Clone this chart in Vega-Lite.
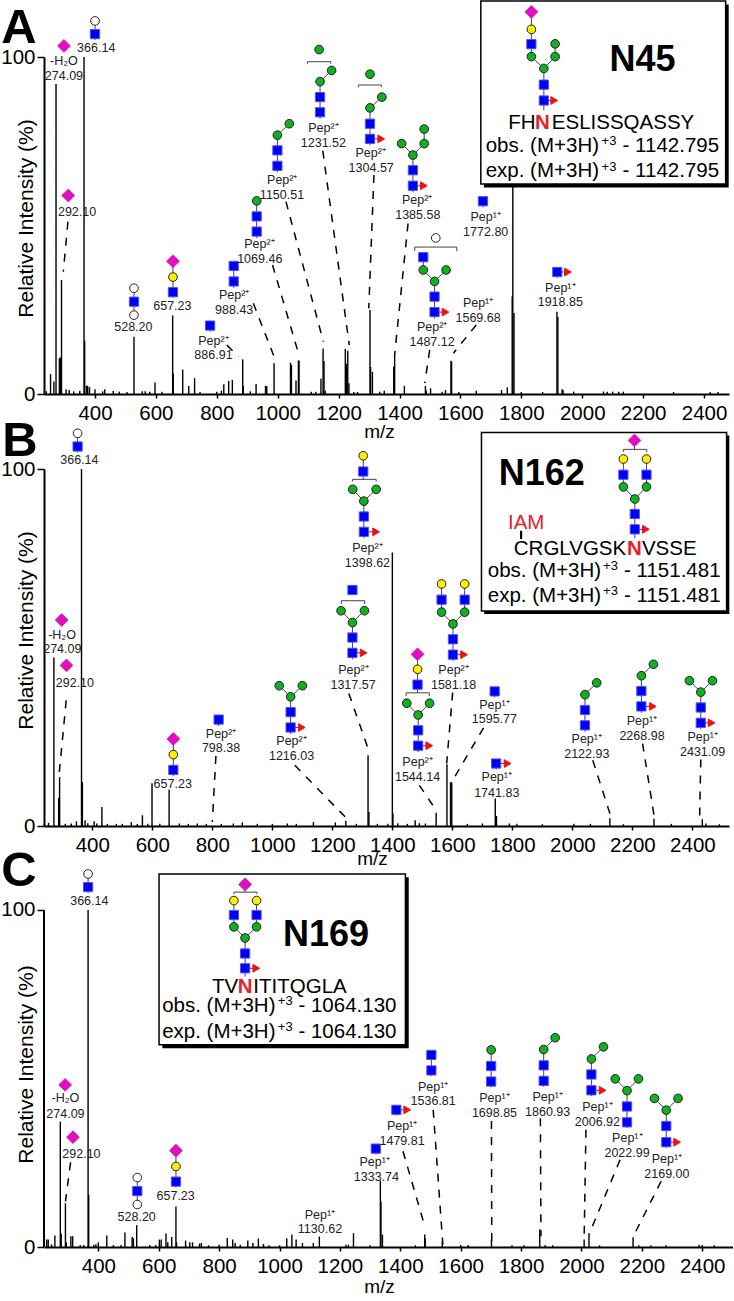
{"$schema":"https://vega.github.io/schema/vega-lite/v6.json","padding":{"left":0,"top":0,"right":0,"bottom":0},"background":"white","bounds":"flush","spacing":75,"config":{"legend":{"disable":true},"view":{"stroke":null},"font":"Liberation Sans","axis":{"grid":false,"domainColor":"black","tickColor":"black","labelColor":"black","titleColor":"black","labelFont":"Liberation Sans","titleFont":"Liberation Sans","titleFontWeight":"normal","labelFontSize":20.5,"titleFontSize":21,"domainWidth":2,"tickWidth":1.5}},
"datasets":{
"peaksA":[{"x":240,"y":0.8},{"x":254,"y":5.9},{"x":265,"y":3.7},{"x":272,"y":92},{"x":283,"y":10.6},{"x":286,"y":10.8},{"x":290,"y":33.8},{"x":305,"y":1.4},{"x":315,"y":1.2},{"x":330,"y":0.8},{"x":350,"y":1},{"x":364,"y":100},{"x":366,"y":15.8},{"x":372,"y":2.5},{"x":376,"y":2.4},{"x":382,"y":2},{"x":400,"y":1.4},{"x":432,"y":1.4},{"x":425,"y":0.8},{"x":460,"y":0.9},{"x":480,"y":0.7},{"x":505,"y":0.6},{"x":528,"y":17},{"x":555,"y":0.8},{"x":565,"y":0.8},{"x":580,"y":0.7},{"x":597,"y":3.4},{"x":620,"y":0.7},{"x":655,"y":23.3},{"x":657,"y":6.1},{"x":688,"y":7.3},{"x":708,"y":2.4},{"x":727,"y":4.7},{"x":745,"y":0.6},{"x":800,"y":0.7},{"x":815,"y":1},{"x":823,"y":2.9},{"x":839,"y":3.9},{"x":851,"y":4.2},{"x":885,"y":10.3},{"x":887,"y":2.4},{"x":910,"y":0.8},{"x":929,"y":3},{"x":960,"y":2.4},{"x":964,"y":2.4},{"x":988,"y":9.1},{"x":1042,"y":9.3},{"x":1045,"y":8.6},{"x":1060,"y":4},{"x":1068,"y":10},{"x":1070,"y":9.8},{"x":1110,"y":0.7},{"x":1125,"y":0.7},{"x":1142,"y":4.5},{"x":1149,"y":13.5},{"x":1152,"y":9.8},{"x":1156,"y":1},{"x":1222,"y":13.4},{"x":1226,"y":9},{"x":1230,"y":12.8},{"x":1234,"y":3.2},{"x":1250,"y":0.6},{"x":1262,"y":0.6},{"x":1303,"y":24.9},{"x":1305,"y":8},{"x":1311,"y":6.6},{"x":1335,"y":0.7},{"x":1350,"y":1},{"x":1381,"y":8.1},{"x":1384,"y":11.8},{"x":1416,"y":2.4},{"x":1485,"y":2.4},{"x":1488,"y":1},{"x":1502,"y":1.7},{"x":1540,"y":0.7},{"x":1551,"y":1.2},{"x":1569,"y":9.9},{"x":1571,"y":9.6},{"x":1595,"y":0.6},{"x":1652,"y":1},{"x":1735,"y":1.2},{"x":1754,"y":2},{"x":1770,"y":28.9},{"x":1772,"y":100},{"x":1776,"y":24},{"x":1800,"y":0.6},{"x":1870,"y":0.6},{"x":1917,"y":24.4},{"x":1920,"y":22.9},{"x":1934,"y":1.4},{"x":1937,"y":1.2},{"x":1972,"y":0.7},{"x":2070,"y":0.7},{"x":2082,"y":0.7},{"x":2100,"y":0.7},{"x":2120,"y":0.7},{"x":2135,"y":0.7},{"x":2300,"y":0.6},{"x":2420,"y":0.6},{"x":2446,"y":0.6}],
"dashA":[{"x":311,"y":51.1,"x2":296,"y2":36.3},{"x":833,"y":14.5,"x2":871,"y2":11.1},{"x":920,"y":26.9,"x2":988,"y2":11.1},{"x":983,"y":38.3,"x2":1068,"y2":12.1},{"x":1027,"y":57.1,"x2":1150,"y2":15.5},{"x":1148,"y":72.2,"x2":1235,"y2":14.5},{"x":1316,"y":65,"x2":1299,"y2":25.4},{"x":1428,"y":50.6,"x2":1384,"y2":11.6},{"x":1499,"y":13.1,"x2":1483,"y2":3.2},{"x":1652,"y":20.5,"x2":1577,"y2":12.1}],
"linksA":[{"x":400,"y":110.7,"x2":400,"y2":105},{"x":528,"y":31.4,"x2":528,"y2":23.4},{"x":656,"y":39.4,"x2":656,"y2":28.5},{"x":778,"y":20.3,"x2":778,"y2":18.5},{"x":855.5,"y":38,"x2":855.5,"y2":31.5},{"x":931,"y":57.3,"x2":931,"y2":46.3},{"x":1038,"y":80.2,"x2":999,"y2":76.8},{"x":999,"y":76.8,"x2":999,"y2":65.8},{"x":1177,"y":96,"x2":1139,"y2":92.7},{"x":1139,"y":92.7,"x2":1139,"y2":81.7},{"x":1342,"y":88.1,"x2":1303,"y2":84.9},{"x":1303,"y":84.9,"x2":1303,"y2":73.8},{"x":1303,"y":75.7,"x2":1340,"y2":75.7},{"x":1481,"y":78.6,"x2":1481,"y2":74.3},{"x":1407,"y":74.3,"x2":1444,"y2":70.9},{"x":1481,"y":74.3,"x2":1444,"y2":70.9},{"x":1444,"y":70.9,"x2":1444,"y2":59.9},{"x":1444,"y":61.8,"x2":1480,"y2":61.8},{"x":1478,"y":40.6,"x2":1478,"y2":36.8},{"x":1478,"y":36.8,"x2":1515,"y2":33.4},{"x":1553,"y":36.8,"x2":1515,"y2":33.4},{"x":1515,"y":33.4,"x2":1515,"y2":22.4},{"x":1515,"y":24.3,"x2":1551,"y2":24.3},{"x":1674,"y":57.2,"x2":1674,"y2":55.4},{"x":1918,"y":36.2,"x2":1918,"y2":34.4},{"x":1918,"y":36.2,"x2":1953,"y2":36.2},{"x":1833,"y":113.4,"x2":1833,"y2":100.1},{"x":1833,"y":100.1,"x2":1874,"y2":96.6},{"x":1911,"y":100.1,"x2":1874,"y2":96.6},{"x":1911,"y":103.9,"x2":1911,"y2":100.1},{"x":1874,"y":96.6,"x2":1874,"y2":84.2},{"x":1874,"y":87.1,"x2":1908,"y2":87.1},{"x":1098,"y":98.6,"x2":1174,"y2":98.6},{"x":1098,"y":98.6,"x2":1098,"y2":98},{"x":1174,"y":98.6,"x2":1174,"y2":98},{"x":1265,"y":91.7,"x2":1340,"y2":91.7},{"x":1265,"y":91.7,"x2":1265,"y2":91},{"x":1340,"y":91.7,"x2":1340,"y2":91},{"x":1450,"y":43.6,"x2":1588,"y2":43.6},{"x":1450,"y":43.6,"x2":1450,"y2":42.4},{"x":1588,"y":43.6,"x2":1588,"y2":42.4}],
"glyphA":[{"x":400,"y":110.7,"t":"W"},{"x":400,"y":106.8,"t":"B"},{"x":298,"y":103.3,"t":"D"},{"x":312,"y":58.9,"t":"D"},{"x":528,"y":31.4,"t":"W"},{"x":528,"y":27.4,"t":"B"},{"x":528,"y":23.4,"t":"W"},{"x":656,"y":39.4,"t":"D"},{"x":656,"y":34.7,"t":"Y"},{"x":656,"y":30.2,"t":"B"},{"x":778,"y":20.3,"t":"B"},{"x":855.5,"y":38,"t":"B"},{"x":855.5,"y":33.4,"t":"B"},{"x":931,"y":57.3,"t":"G"},{"x":931,"y":52.7,"t":"B"},{"x":931,"y":48.2,"t":"B"},{"x":1038,"y":80.2,"t":"G"},{"x":999,"y":76.8,"t":"G"},{"x":999,"y":72.3,"t":"B"},{"x":999,"y":67.7,"t":"B"},{"x":1136,"y":102.2,"t":"G"},{"x":1177,"y":96,"t":"G"},{"x":1139,"y":92.7,"t":"G"},{"x":1139,"y":88.1,"t":"B"},{"x":1139,"y":83.6,"t":"B"},{"x":1303,"y":94.9,"t":"G"},{"x":1342,"y":88.1,"t":"G"},{"x":1303,"y":84.9,"t":"G"},{"x":1303,"y":80.2,"t":"B"},{"x":1303,"y":75.7,"t":"B"},{"x":1340,"y":75.7,"t":"R"},{"x":1481,"y":78.6,"t":"G"},{"x":1407,"y":74.3,"t":"G"},{"x":1481,"y":74.3,"t":"G"},{"x":1444,"y":70.9,"t":"G"},{"x":1444,"y":66.4,"t":"B"},{"x":1444,"y":61.8,"t":"B"},{"x":1480,"y":61.8,"t":"R"},{"x":1519,"y":46.3,"t":"W"},{"x":1478,"y":40.6,"t":"B"},{"x":1478,"y":36.8,"t":"G"},{"x":1553,"y":36.8,"t":"G"},{"x":1515,"y":33.4,"t":"G"},{"x":1515,"y":28.9,"t":"B"},{"x":1515,"y":24.3,"t":"B"},{"x":1551,"y":24.3,"t":"R"},{"x":1674,"y":57.2,"t":"B"},{"x":1918,"y":36.2,"t":"B"},{"x":1953,"y":36.2,"t":"R"},{"x":1833,"y":113.4,"t":"D"},{"x":1833,"y":108.2,"t":"Y"},{"x":1833,"y":103.8,"t":"B"},{"x":1833,"y":100.1,"t":"G"},{"x":1911,"y":103.9,"t":"G"},{"x":1911,"y":100.1,"t":"G"},{"x":1874,"y":96.6,"t":"G"},{"x":1874,"y":91.8,"t":"B"},{"x":1874,"y":87.1,"t":"B"},{"x":1908,"y":87.1,"t":"R"}],
"textA":[{"x":404,"y":102.7,"t":"366.14","r":"ion"},{"x":298,"y":98.9,"t":"-H₂O","r":"ion"},{"x":298,"y":94.5,"t":"274.09","r":"ion"},{"x":341,"y":53.9,"t":"292.10","r":"ion"},{"x":526,"y":19.9,"t":"528.20","r":"ion"},{"x":654,"y":26.1,"t":"657.23","r":"ion"},{"x":789,"y":15.8,"t":"Pep²⁺","r":"ion"},{"x":789,"y":11.5,"t":"886.91","r":"ion"},{"x":857,"y":29.4,"t":"Pep²⁺","r":"ion"},{"x":857,"y":24.9,"t":"988.43","r":"ion"},{"x":940,"y":44.4,"t":"Pep²⁺","r":"ion"},{"x":941,"y":40,"t":"1069.46","r":"ion"},{"x":1015,"y":63.5,"t":"Pep²⁺","r":"ion"},{"x":1014,"y":59.1,"t":"1150.51","r":"ion"},{"x":1150,"y":78.8,"t":"Pep²⁺","r":"ion"},{"x":1150,"y":74.4,"t":"1231.52","r":"ion"},{"x":1305,"y":71.4,"t":"Pep²⁺","r":"ion"},{"x":1307,"y":67.2,"t":"1304.57","r":"ion"},{"x":1458,"y":57.6,"t":"Pep²⁺","r":"ion"},{"x":1460,"y":53.1,"t":"1385.58","r":"ion"},{"x":1507,"y":20,"t":"Pep²⁺","r":"ion"},{"x":1507,"y":15.5,"t":"1487.12","r":"ion"},{"x":1658,"y":27.1,"t":"Pep¹⁺","r":"ion"},{"x":1658,"y":22.7,"t":"1569.68","r":"ion"},{"x":1683,"y":52.6,"t":"Pep¹⁺","r":"ion"},{"x":1683,"y":48.2,"t":"1772.80","r":"ion"},{"x":1928,"y":31.6,"t":"Pep¹⁺","r":"ion"},{"x":1928,"y":27.3,"t":"1918.85","r":"ion"},{"x":1802,"y":80.5,"t":"FH","r":"seq"},{"x":2134,"y":80.5,"t":"ESLISSQASSY","r":"seq"},{"x":1869,"y":73.7,"t":"obs. (M+3H)","r":"seq"},{"x":2088,"y":75.2,"t":"+3","r":"sup"},{"x":2291,"y":73.7,"t":"- 1142.795","r":"seq"},{"x":1869,"y":66.1,"t":"exp. (M+3H)","r":"seq"},{"x":2088,"y":67.5,"t":"+3","r":"sup"},{"x":2291,"y":66.1,"t":"- 1142.795","r":"seq"}],
"boldA":[{"x":150,"y":108.6,"t":"A","r":"letter"},{"x":2198,"y":99.1,"t":"N45","r":"head"},{"x":1869,"y":80.5,"t":"N","r":"red"}],
"peaksB":[{"x":240,"y":0.6},{"x":254,"y":0.9},{"x":272,"y":47.2},{"x":288,"y":7.9},{"x":291,"y":13.7},{"x":310,"y":0.6},{"x":330,"y":0.7},{"x":347,"y":1.3},{"x":364,"y":100},{"x":367,"y":12.3},{"x":376,"y":1.6},{"x":385,"y":0.8},{"x":406,"y":1.3},{"x":415,"y":0.7},{"x":432,"y":5.3},{"x":450,"y":0.6},{"x":480,"y":0.6},{"x":500,"y":0.6},{"x":530,"y":1.1},{"x":550,"y":0.6},{"x":567,"y":3},{"x":585,"y":0.6},{"x":599,"y":12},{"x":625,"y":0.6},{"x":656,"y":10.2},{"x":690,"y":0.7},{"x":720,"y":0.6},{"x":750,"y":0.7},{"x":780,"y":0.6},{"x":830,"y":0.6},{"x":870,"y":0.7},{"x":900,"y":1},{"x":950,"y":0.6},{"x":1000,"y":0.6},{"x":1050,"y":0.7},{"x":1080,"y":0.6},{"x":1137,"y":1.1},{"x":1210,"y":1},{"x":1245,"y":1.5},{"x":1280,"y":0.6},{"x":1319,"y":19.8},{"x":1322,"y":3.9},{"x":1350,"y":0.6},{"x":1385,"y":0.6},{"x":1400,"y":76.6},{"x":1402,"y":3.5},{"x":1418,"y":0.8},{"x":1450,"y":0.6},{"x":1476,"y":1.6},{"x":1490,"y":0.8},{"x":1510,"y":0.7},{"x":1546,"y":3.7},{"x":1582,"y":17.3},{"x":1594,"y":12.3},{"x":1598,"y":12.2},{"x":1650,"y":0.6},{"x":1700,"y":0.7},{"x":1743,"y":7.7},{"x":1747,"y":2.8},{"x":1790,"y":0.7},{"x":1815,"y":0.6},{"x":1900,"y":0.5},{"x":2005,"y":0.6},{"x":2060,"y":0.6},{"x":2125,"y":2.2},{"x":2272,"y":2},{"x":2170,"y":0.5},{"x":2330,"y":0.6},{"x":2433,"y":1.9},{"x":2445,"y":0.7},{"x":2490,"y":0.5}],
"dashB":[{"x":313,"y":35.2,"x2":289,"y2":14.2},{"x":812,"y":19.6,"x2":800,"y2":1.1},{"x":1075,"y":17,"x2":1248,"y2":2.1},{"x":1255,"y":37.1,"x2":1317,"y2":22.2},{"x":1490,"y":11.4,"x2":1546,"y2":4.4},{"x":1601,"y":37.4,"x2":1581,"y2":17.5},{"x":1704,"y":27.5,"x2":1601,"y2":12.8},{"x":2068,"y":18.4,"x2":2127,"y2":3},{"x":2234,"y":23.1,"x2":2273,"y2":2.5},{"x":2428,"y":18.6,"x2":2424,"y2":2.1}],
"linksB":[{"x":351,"y":110,"x2":351,"y2":104.6},{"x":670,"y":24.4,"x2":670,"y2":14},{"x":821,"y":29.8,"x2":821,"y2":28},{"x":1023,"y":39.3,"x2":1061,"y2":36.2},{"x":1100,"y":39.3,"x2":1061,"y2":36.2},{"x":1061,"y":36.2,"x2":1061,"y2":25.8},{"x":1061,"y":27.6,"x2":1098,"y2":27.6},{"x":1229,"y":60.3,"x2":1267,"y2":57},{"x":1307,"y":60.3,"x2":1267,"y2":57},{"x":1267,"y":57,"x2":1267,"y2":46.7},{"x":1267,"y":48.5,"x2":1304,"y2":48.5},{"x":1230,"y":63.1,"x2":1308,"y2":63.1},{"x":1230,"y":63.1,"x2":1230,"y2":62.2},{"x":1308,"y":63.1,"x2":1308,"y2":62.2},{"x":1303,"y":103.7,"x2":1303,"y2":97.1},{"x":1268,"y":94.3,"x2":1305,"y2":91},{"x":1346,"y":94.3,"x2":1305,"y2":91},{"x":1305,"y":91,"x2":1305,"y2":80.6},{"x":1305,"y":82.4,"x2":1346,"y2":82.4},{"x":1267,"y":97.1,"x2":1346,"y2":97.1},{"x":1267,"y":97.1,"x2":1267,"y2":96.5},{"x":1346,"y":97.1,"x2":1346,"y2":96.5},{"x":1484,"y":48.1,"x2":1484,"y2":37.3},{"x":1448,"y":34.4,"x2":1486,"y2":31.1},{"x":1524,"y":34.4,"x2":1486,"y2":31.1},{"x":1486,"y":31.1,"x2":1486,"y2":20.7},{"x":1486,"y":22.5,"x2":1523,"y2":22.5},{"x":1446,"y":37.3,"x2":1523,"y2":37.3},{"x":1446,"y":37.3,"x2":1446,"y2":36.4},{"x":1523,"y":37.3,"x2":1523,"y2":36.4},{"x":1564,"y":67.8,"x2":1564,"y2":59.9},{"x":1641,"y":67.8,"x2":1641,"y2":59.9},{"x":1564,"y":59.9,"x2":1602,"y2":56.6},{"x":1641,"y":59.9,"x2":1602,"y2":56.6},{"x":1602,"y":56.6,"x2":1602,"y2":46.2},{"x":1602,"y":48,"x2":1639,"y2":48},{"x":1741,"y":37.7,"x2":1741,"y2":36},{"x":1746,"y":17.5,"x2":1746,"y2":15.8},{"x":1746,"y":17.5,"x2":1784,"y2":17.5},{"x":2081,"y":40.1,"x2":2042,"y2":36.8},{"x":2042,"y":36.8,"x2":2042,"y2":26.4},{"x":2270,"y":45.3,"x2":2230,"y2":42.1},{"x":2230,"y":42.1,"x2":2230,"y2":31.7},{"x":2230,"y":33.5,"x2":2268,"y2":33.5},{"x":2390,"y":40.7,"x2":2428,"y2":37.5},{"x":2467,"y":40.7,"x2":2428,"y2":37.5},{"x":2428,"y":37.5,"x2":2428,"y2":27.1},{"x":2428,"y":28.9,"x2":2464,"y2":28.9},{"x":2207,"y":108,"x2":2207,"y2":105.5},{"x":2170,"y":105.5,"x2":2248,"y2":105.5},{"x":2170,"y":105.5,"x2":2170,"y2":104.8},{"x":2248,"y":105.5,"x2":2248,"y2":104.8},{"x":2170,"y":102.8,"x2":2170,"y2":95},{"x":2247,"y":102.8,"x2":2247,"y2":95},{"x":2170,"y":95,"x2":2208,"y2":91.6},{"x":2247,"y":95,"x2":2208,"y2":91.6},{"x":2208,"y":91.6,"x2":2208,"y2":80.6},{"x":2208,"y":83.1,"x2":2245,"y2":83.1}],
"glyphB":[{"x":351,"y":110,"t":"W"},{"x":351,"y":106.3,"t":"B"},{"x":298,"y":57.7,"t":"D"},{"x":314,"y":45,"t":"D"},{"x":670,"y":24.4,"t":"D"},{"x":670,"y":20,"t":"Y"},{"x":670,"y":15.7,"t":"B"},{"x":821,"y":29.8,"t":"B"},{"x":1023,"y":39.3,"t":"G"},{"x":1100,"y":39.3,"t":"G"},{"x":1061,"y":36.2,"t":"G"},{"x":1061,"y":31.9,"t":"B"},{"x":1061,"y":27.6,"t":"B"},{"x":1098,"y":27.6,"t":"R"},{"x":1267,"y":66.1,"t":"B"},{"x":1229,"y":60.3,"t":"G"},{"x":1307,"y":60.3,"t":"G"},{"x":1267,"y":57,"t":"G"},{"x":1267,"y":52.8,"t":"B"},{"x":1267,"y":48.5,"t":"B"},{"x":1304,"y":48.5,"t":"R"},{"x":1303,"y":103.7,"t":"Y"},{"x":1303,"y":99.3,"t":"B"},{"x":1268,"y":94.3,"t":"G"},{"x":1346,"y":94.3,"t":"G"},{"x":1305,"y":91,"t":"G"},{"x":1305,"y":86.7,"t":"B"},{"x":1305,"y":82.4,"t":"B"},{"x":1346,"y":82.4,"t":"R"},{"x":1484,"y":48.1,"t":"D"},{"x":1484,"y":43.9,"t":"Y"},{"x":1484,"y":39.6,"t":"B"},{"x":1448,"y":34.4,"t":"G"},{"x":1524,"y":34.4,"t":"G"},{"x":1486,"y":31.1,"t":"G"},{"x":1486,"y":26.8,"t":"B"},{"x":1486,"y":22.5,"t":"B"},{"x":1523,"y":22.5,"t":"R"},{"x":1564,"y":67.8,"t":"Y"},{"x":1641,"y":67.8,"t":"Y"},{"x":1564,"y":63.4,"t":"B"},{"x":1641,"y":63.4,"t":"B"},{"x":1564,"y":59.9,"t":"G"},{"x":1641,"y":59.9,"t":"G"},{"x":1602,"y":56.6,"t":"G"},{"x":1602,"y":52.3,"t":"B"},{"x":1602,"y":48,"t":"B"},{"x":1639,"y":48,"t":"R"},{"x":1741,"y":37.7,"t":"B"},{"x":1746,"y":17.5,"t":"B"},{"x":1784,"y":17.5,"t":"R"},{"x":2081,"y":40.1,"t":"G"},{"x":2042,"y":36.8,"t":"G"},{"x":2042,"y":32.5,"t":"B"},{"x":2042,"y":28.2,"t":"B"},{"x":2270,"y":45.3,"t":"G"},{"x":2230,"y":42.1,"t":"G"},{"x":2230,"y":37.8,"t":"B"},{"x":2230,"y":33.5,"t":"B"},{"x":2268,"y":33.5,"t":"R"},{"x":2390,"y":40.7,"t":"G"},{"x":2467,"y":40.7,"t":"G"},{"x":2428,"y":37.5,"t":"G"},{"x":2428,"y":33.2,"t":"B"},{"x":2428,"y":28.9,"t":"B"},{"x":2464,"y":28.9,"t":"R"},{"x":2207,"y":108,"t":"D"},{"x":2170,"y":102.8,"t":"Y"},{"x":2247,"y":102.8,"t":"Y"},{"x":2170,"y":98.4,"t":"B"},{"x":2247,"y":98.4,"t":"B"},{"x":2170,"y":95,"t":"G"},{"x":2247,"y":95,"t":"G"},{"x":2208,"y":91.6,"t":"G"},{"x":2208,"y":87.4,"t":"B"},{"x":2208,"y":83.1,"t":"B"},{"x":2245,"y":83.1,"t":"R"}],
"textB":[{"x":357,"y":102.5,"t":"366.14","r":"ion"},{"x":299,"y":53.6,"t":"-H₂O","r":"ion"},{"x":300,"y":49.5,"t":"274.09","r":"ion"},{"x":342,"y":40.1,"t":"292.10","r":"ion"},{"x":668,"y":11.7,"t":"657.23","r":"ion"},{"x":829,"y":25.9,"t":"Pep²⁺","r":"ion"},{"x":829,"y":21.8,"t":"798.38","r":"ion"},{"x":1064,"y":23.7,"t":"Pep²⁺","r":"ion"},{"x":1064,"y":19.5,"t":"1216.03","r":"ion"},{"x":1270,"y":43.6,"t":"Pep²⁺","r":"ion"},{"x":1269,"y":39.5,"t":"1317.57","r":"ion"},{"x":1317,"y":77.9,"t":"Pep²⁺","r":"ion"},{"x":1317,"y":73.8,"t":"1398.62","r":"ion"},{"x":1484,"y":17.8,"t":"Pep²⁺","r":"ion"},{"x":1484,"y":13.6,"t":"1544.14","r":"ion"},{"x":1604,"y":43.6,"t":"Pep²⁺","r":"ion"},{"x":1604,"y":39.5,"t":"1581.18","r":"ion"},{"x":1740,"y":34,"t":"Pep¹⁺","r":"ion"},{"x":1740,"y":29.9,"t":"1595.77","r":"ion"},{"x":1748,"y":13.6,"t":"Pep¹⁺","r":"ion"},{"x":1748,"y":9.3,"t":"1741.83","r":"ion"},{"x":2048,"y":24.4,"t":"Pep¹⁺","r":"ion"},{"x":2048,"y":20.2,"t":"2122.93","r":"ion"},{"x":2232,"y":29.3,"t":"Pep¹⁺","r":"ion"},{"x":2232,"y":25.2,"t":"2268.98","r":"ion"},{"x":2434,"y":25,"t":"Pep¹⁺","r":"ion"},{"x":2434,"y":20.8,"t":"2431.09","r":"ion"},{"x":1846,"y":85,"t":"IAM","r":"iam"},{"x":1992,"y":77.6,"t":"CRGLVGSK","r":"seq"},{"x":2323,"y":77.6,"t":"VSSE","r":"seq"},{"x":1907,"y":71.5,"t":"obs. (M+3H)","r":"seq"},{"x":2127,"y":72.9,"t":"+3","r":"sup"},{"x":2333,"y":71.5,"t":"- 1151.481","r":"seq"},{"x":1907,"y":64.3,"t":"exp. (M+3H)","r":"seq"},{"x":2127,"y":65.7,"t":"+3","r":"sup"},{"x":2333,"y":64.3,"t":"- 1151.481","r":"seq"}],
"boldB":[{"x":159,"y":107.9,"t":"B","r":"letter"},{"x":1898,"y":98.6,"t":"N162","r":"head"},{"x":2207,"y":77.6,"t":"N","r":"red"}],
"peaksC":[{"x":229,"y":2.2},{"x":234,"y":2.2},{"x":245,"y":0.8},{"x":256,"y":3.4},{"x":274,"y":37.2},{"x":277,"y":4},{"x":291,"y":13},{"x":294,"y":1.4},{"x":309,"y":3.2},{"x":315,"y":3.2},{"x":340,"y":0.6},{"x":352,"y":0.6},{"x":366,"y":100},{"x":368,"y":15.5},{"x":385,"y":0.7},{"x":392,"y":0.8},{"x":400,"y":1.4},{"x":428,"y":3.4},{"x":450,"y":0.6},{"x":475,"y":0.6},{"x":488,"y":4.3},{"x":512,"y":3},{"x":516,"y":2.6},{"x":527,"y":6.5},{"x":570,"y":0.6},{"x":590,"y":0.6},{"x":602,"y":2.2},{"x":608,"y":2.2},{"x":624,"y":4},{"x":630,"y":1.4},{"x":643,"y":3},{"x":657,"y":12},{"x":659,"y":1.4},{"x":689,"y":1.9},{"x":703,"y":1.4},{"x":712,"y":1.4},{"x":735,"y":1},{"x":741,"y":1.2},{"x":765,"y":0.5},{"x":800,"y":0.7},{"x":827,"y":2.7},{"x":845,"y":2.2},{"x":853,"y":1.2},{"x":870,"y":0.7},{"x":895,"y":1.9},{"x":912,"y":1.2},{"x":930,"y":2.5},{"x":947,"y":0.9},{"x":965,"y":0.5},{"x":1000,"y":0.5},{"x":1024,"y":2.6},{"x":1041,"y":3.7},{"x":1055,"y":2.2},{"x":1076,"y":1.2},{"x":1112,"y":1.2},{"x":1132,"y":3.1},{"x":1220,"y":0.7},{"x":1228,"y":0.7},{"x":1245,"y":4.1},{"x":1300,"y":0.5},{"x":1334,"y":19.7},{"x":1336,"y":13.5},{"x":1341,"y":3.7},{"x":1450,"y":0.5},{"x":1481,"y":3.7},{"x":1483,"y":2.5},{"x":1539,"y":1.7},{"x":1600,"y":0.6},{"x":1625,"y":0.6},{"x":1702,"y":2.2},{"x":1770,"y":0.5},{"x":1810,"y":0.5},{"x":1862,"y":5.3},{"x":1880,"y":0.6},{"x":1905,"y":0.5},{"x":2009,"y":2.2},{"x":2025,"y":4},{"x":2060,"y":0.5},{"x":2171,"y":2.9},{"x":2190,"y":0.5},{"x":2230,"y":0.5},{"x":2280,"y":0.5},{"x":2390,"y":0.7},{"x":2400,"y":0.6},{"x":2440,"y":0.5}],
"dashC":[{"x":308,"y":25.1,"x2":291,"y2":13.5},{"x":1409,"y":28.4,"x2":1483,"y2":5.6},{"x":1509,"y":40.7,"x2":1541,"y2":0.7},{"x":1702,"y":37.4,"x2":1703,"y2":0.2},{"x":1864,"y":38.2,"x2":1866,"y2":3.2},{"x":2015,"y":34.8,"x2":2009,"y2":2.7},{"x":2128,"y":25.9,"x2":2025,"y2":3.7},{"x":2264,"y":19.5,"x2":2172,"y2":3.2}],
"linksC":[{"x":366,"y":110.7,"x2":366,"y2":105},{"x":529,"y":20.6,"x2":529,"y2":12.6},{"x":657,"y":28.6,"x2":657,"y2":17.7},{"x":1319,"y":29.2,"x2":1319,"y2":27.5},{"x":1387,"y":40.7,"x2":1387,"y2":39},{"x":1387,"y":40.7,"x2":1423,"y2":40.7},{"x":1503,"y":57,"x2":1503,"y2":50.7},{"x":1701,"y":58.5,"x2":1701,"y2":47.4},{"x":1913,"y":62.1,"x2":1875,"y2":58.6},{"x":1875,"y":58.6,"x2":1875,"y2":47.5},{"x":2073,"y":59.4,"x2":2033,"y2":55.8},{"x":2033,"y":55.8,"x2":2033,"y2":44.8},{"x":2033,"y":46.5,"x2":2070,"y2":46.5},{"x":2112,"y":49.9,"x2":2151,"y2":46.4},{"x":2189,"y":49.9,"x2":2151,"y2":46.4},{"x":2151,"y":46.4,"x2":2151,"y2":35.3},{"x":2242,"y":44.1,"x2":2281,"y2":40.6},{"x":2320,"y":44.1,"x2":2281,"y2":40.6},{"x":2281,"y":40.6,"x2":2281,"y2":29.4},{"x":2281,"y":31.1,"x2":2317,"y2":31.1},{"x":886,"y":107.6,"x2":886,"y2":105.3},{"x":849,"y":105.3,"x2":925,"y2":105.3},{"x":849,"y":105.3,"x2":849,"y2":104.7},{"x":925,"y":105.3,"x2":925,"y2":104.7},{"x":849,"y":102.8,"x2":849,"y2":95},{"x":924,"y":102.8,"x2":924,"y2":95},{"x":849,"y":95,"x2":886,"y2":91.7},{"x":924,"y":95,"x2":886,"y2":91.7},{"x":886,"y":91.7,"x2":886,"y2":80.2},{"x":886,"y":82.7,"x2":923,"y2":82.7}],
"glyphC":[{"x":366,"y":110.7,"t":"W"},{"x":366,"y":106.8,"t":"B"},{"x":290,"y":48.1,"t":"D"},{"x":316,"y":32.6,"t":"D"},{"x":529,"y":20.6,"t":"W"},{"x":529,"y":16.6,"t":"B"},{"x":529,"y":12.6,"t":"W"},{"x":657,"y":28.6,"t":"D"},{"x":657,"y":23.9,"t":"Y"},{"x":657,"y":19.4,"t":"B"},{"x":1319,"y":29.2,"t":"B"},{"x":1387,"y":40.7,"t":"B"},{"x":1423,"y":40.7,"t":"R"},{"x":1503,"y":57,"t":"B"},{"x":1503,"y":52.4,"t":"B"},{"x":1701,"y":58.5,"t":"G"},{"x":1701,"y":53.7,"t":"B"},{"x":1701,"y":49.1,"t":"B"},{"x":1913,"y":62.1,"t":"G"},{"x":1875,"y":58.6,"t":"G"},{"x":1875,"y":53.9,"t":"B"},{"x":1875,"y":49.3,"t":"B"},{"x":2073,"y":59.4,"t":"G"},{"x":2033,"y":55.8,"t":"G"},{"x":2033,"y":51.2,"t":"B"},{"x":2033,"y":46.5,"t":"B"},{"x":2070,"y":46.5,"t":"R"},{"x":2112,"y":49.9,"t":"G"},{"x":2189,"y":49.9,"t":"G"},{"x":2151,"y":46.4,"t":"G"},{"x":2151,"y":41.7,"t":"B"},{"x":2151,"y":37,"t":"B"},{"x":2242,"y":44.1,"t":"G"},{"x":2320,"y":44.1,"t":"G"},{"x":2281,"y":40.6,"t":"G"},{"x":2281,"y":35.9,"t":"B"},{"x":2281,"y":31.1,"t":"B"},{"x":2317,"y":31.1,"t":"R"},{"x":886,"y":107.6,"t":"D"},{"x":849,"y":102.8,"t":"Y"},{"x":924,"y":102.8,"t":"Y"},{"x":849,"y":98.5,"t":"B"},{"x":924,"y":98.5,"t":"B"},{"x":849,"y":95,"t":"G"},{"x":924,"y":95,"t":"G"},{"x":886,"y":91.7,"t":"G"},{"x":886,"y":87.1,"t":"B"},{"x":886,"y":82.7,"t":"B"},{"x":923,"y":82.7,"t":"R"}],
"textC":[{"x":370,"y":102.7,"t":"366.14","r":"ion"},{"x":291,"y":44.1,"t":"-H₂O","r":"ion"},{"x":291,"y":39.6,"t":"274.09","r":"ion"},{"x":344,"y":27.7,"t":"292.10","r":"ion"},{"x":527,"y":9,"t":"528.20","r":"ion"},{"x":656,"y":15.2,"t":"657.23","r":"ion"},{"x":1134,"y":9.6,"t":"Pep¹⁺","r":"ion"},{"x":1134,"y":5.2,"t":"1130.62","r":"ion"},{"x":1315,"y":25.3,"t":"Pep¹⁺","r":"ion"},{"x":1321,"y":20.9,"t":"1333.74","r":"ion"},{"x":1406,"y":36,"t":"Pep¹⁺","r":"ion"},{"x":1406,"y":31.5,"t":"1479.81","r":"ion"},{"x":1509,"y":47.6,"t":"Pep¹⁺","r":"ion"},{"x":1509,"y":43.2,"t":"1536.81","r":"ion"},{"x":1712,"y":44.1,"t":"Pep¹⁺","r":"ion"},{"x":1712,"y":39.7,"t":"1698.85","r":"ion"},{"x":1888,"y":44.5,"t":"Pep¹⁺","r":"ion"},{"x":1888,"y":40,"t":"1860.93","r":"ion"},{"x":2053,"y":41.4,"t":"Pep¹⁺","r":"ion"},{"x":2053,"y":37,"t":"2006.92","r":"ion"},{"x":2152,"y":32.4,"t":"Pep¹⁺","r":"ion"},{"x":2151,"y":28,"t":"2022.99","r":"ion"},{"x":2283,"y":26,"t":"Pep¹⁺","r":"ion"},{"x":2283,"y":21.6,"t":"2169.00","r":"ion"},{"x":820,"y":77.2,"t":"TV","r":"seq"},{"x":1068,"y":77.2,"t":"ITITQGLA","r":"seq"},{"x":799,"y":71.5,"t":"obs. (M+3H)","r":"seq"},{"x":1019,"y":72.9,"t":"+3","r":"sup"},{"x":1225,"y":71.5,"t":"- 1064.130","r":"seq"},{"x":799,"y":63.9,"t":"exp. (M+3H)","r":"seq"},{"x":1019,"y":65.4,"t":"+3","r":"sup"},{"x":1225,"y":63.9,"t":"- 1064.130","r":"seq"}],
"boldC":[{"x":137,"y":111.6,"t":"C","r":"letter"},{"x":1154,"y":92.6,"t":"N169","r":"head"},{"x":886,"y":77.2,"t":"N","r":"red"}]
},
"vconcat":[
{"width":685,"height":337,
"encoding":{"x":{"field":"x","type":"quantitative","scale":{"domain":[232.5,2482],"nice":false,"zero":false},"axis":{"values":[400,600,800,1000,1200,1400,1600,1800,2000,2200,2400],"format":"d","title":"m/z","titleFontSize":19,"tickSize":4,"labelPadding":5,"titleX":335,"titleY":28,"labelOverlap":false}},"y":{"field":"y","type":"quantitative","scale":{"domain":[0,100],"nice":false},"axis":{"values":[0,100],"title":"Relative Intensity (%)","tickSize":7,"labelPadding":2,"titleX":-8,"titleY":161}}},
"layer":[
{"data":{"name":"peaksA"},"mark":{"type":"rule","color":"black","strokeWidth":1.4},"encoding":{"y2":{"datum":0}}},
{"data":{"name":"dashA"},"mark":{"type":"rule","color":"black","strokeWidth":1.5,"strokeDash":[8,8]},"encoding":{"x2":{"field":"x2"},"y2":{"field":"y2"}}},
{"data":{"values":[{"x":1677,"x2":2481,"y":115.6,"y2":61.3}]},"mark":{"type":"rect","fill":"black"},"encoding":{"x2":{"field":"x2"},"y2":{"field":"y2"}}},
{"data":{"values":[{"x":1667,"x2":2471,"y":116.6,"y2":62.3}]},"mark":{"type":"rect","fill":"white","stroke":"black","strokeWidth":1.5},"encoding":{"x2":{"field":"x2"},"y2":{"field":"y2"}}},
{"data":{"name":"linksA"},"mark":{"type":"rule","color":"#444","strokeWidth":1},"encoding":{"x2":{"field":"x2"},"y2":{"field":"y2"}}},
{"data":{"name":"glyphA"},"mark":{"type":"point","filled":true,"opacity":1,"strokeWidth":1},"encoding":{"shape":{"field":"t","type":"nominal","scale":{"domain":["B","G","Y","W","D","R"],"range":["square","circle","circle","circle","diamond","triangle-right"]}},"fill":{"field":"t","type":"nominal","scale":{"domain":["B","G","Y","W","D","R"],"range":["#0000f0","#10b020","#fff000","#ffffff","#e010c0","#f01010"]}},"stroke":{"field":"t","type":"nominal","scale":{"domain":["B","G","Y","W","D","R"],"range":["#5050ff","#222222","#222222","#222222","#e010c0","#f01010"]}},"size":{"field":"t","type":"nominal","scale":{"type":"ordinal","domain":["ion","seq","sup","iam","red","head","letter","B","G","Y","W","D","R"],"range":[12.5,20.5,13,20.5,20.5,36,49,85,75,75,75,160,60]}}}},
{"data":{"name":"textA"},"mark":{"type":"text","baseline":"middle"},"encoding":{"text":{"field":"t"},"size":{"field":"r","type":"nominal","scale":{"type":"ordinal","domain":["ion","seq","sup","iam","red","head","letter","B","G","Y","W","D","R"],"range":[12.5,20.5,13,20.5,20.5,36,49,85,75,75,75,160,60]}},"color":{"field":"r","type":"nominal","scale":{"domain":["ion","seq","sup","iam","red","head","letter"],"range":["#222222","#000000","#000000","#e8202a","#e8202a","#000000","#000000"]}}}},
{"data":{"name":"boldA"},"mark":{"type":"text","baseline":"middle","fontWeight":"bold"},"encoding":{"text":{"field":"t"},"size":{"field":"r","type":"nominal","scale":{"type":"ordinal","domain":["ion","seq","sup","iam","red","head","letter","B","G","Y","W","D","R"],"range":[12.5,20.5,13,20.5,20.5,36,49,85,75,75,75,160,60]}},"color":{"field":"r","type":"nominal","scale":{"domain":["ion","seq","sup","iam","red","head","letter"],"range":["#222222","#000000","#000000","#e8202a","#e8202a","#000000","#000000"]}}}}
]},
{"width":685,"height":357,
"encoding":{"x":{"field":"x","type":"quantitative","scale":{"domain":[239,2522],"nice":false,"zero":false},"axis":{"values":[400,600,800,1000,1200,1400,1600,1800,2000,2200,2400],"format":"d","title":"m/z","titleFontSize":19,"tickSize":4,"labelPadding":5,"titleX":328,"titleY":23,"labelOverlap":false}},"y":{"field":"y","type":"quantitative","scale":{"domain":[0,100],"nice":false},"axis":{"values":[0,100],"title":"Relative Intensity (%)","tickSize":7,"labelPadding":2,"titleX":-8,"titleY":161}}},
"layer":[
{"data":{"name":"peaksB"},"mark":{"type":"rule","color":"black","strokeWidth":1.4},"encoding":{"y2":{"datum":0}}},
{"data":{"name":"dashB"},"mark":{"type":"rule","color":"black","strokeWidth":1.5,"strokeDash":[8,8]},"encoding":{"x2":{"field":"x2"},"y2":{"field":"y2"}}},
{"data":{"values":[{"x":1706,"x2":2523,"y":109.4,"y2":59.4}]},"mark":{"type":"rect","fill":"black"},"encoding":{"x2":{"field":"x2"},"y2":{"field":"y2"}}},
{"data":{"values":[{"x":1697,"x2":2514,"y":110.2,"y2":60.2}]},"mark":{"type":"rect","fill":"white","stroke":"black","strokeWidth":1.5},"encoding":{"x2":{"field":"x2"},"y2":{"field":"y2"}}},
{"data":{"name":"linksB"},"mark":{"type":"rule","color":"#444","strokeWidth":1},"encoding":{"x2":{"field":"x2"},"y2":{"field":"y2"}}},
{"data":{"values":[{"x":1829,"y":82.7,"x2":1829,"y2":80.4}]},"mark":{"type":"rule","color":"black","strokeWidth":2.2},"encoding":{"x2":{"field":"x2"},"y2":{"field":"y2"}}},
{"data":{"name":"glyphB"},"mark":{"type":"point","filled":true,"opacity":1,"strokeWidth":1},"encoding":{"shape":{"field":"t","type":"nominal","scale":{"domain":["B","G","Y","W","D","R"],"range":["square","circle","circle","circle","diamond","triangle-right"]}},"fill":{"field":"t","type":"nominal","scale":{"domain":["B","G","Y","W","D","R"],"range":["#0000f0","#10b020","#fff000","#ffffff","#e010c0","#f01010"]}},"stroke":{"field":"t","type":"nominal","scale":{"domain":["B","G","Y","W","D","R"],"range":["#5050ff","#222222","#222222","#222222","#e010c0","#f01010"]}},"size":{"field":"t","type":"nominal","scale":{"type":"ordinal","domain":["ion","seq","sup","iam","red","head","letter","B","G","Y","W","D","R"],"range":[12.5,20.5,13,20.5,20.5,36,49,85,75,75,75,160,60]}}}},
{"data":{"name":"textB"},"mark":{"type":"text","baseline":"middle"},"encoding":{"text":{"field":"t"},"size":{"field":"r","type":"nominal","scale":{"type":"ordinal","domain":["ion","seq","sup","iam","red","head","letter","B","G","Y","W","D","R"],"range":[12.5,20.5,13,20.5,20.5,36,49,85,75,75,75,160,60]}},"color":{"field":"r","type":"nominal","scale":{"domain":["ion","seq","sup","iam","red","head","letter"],"range":["#222222","#000000","#000000","#e8202a","#e8202a","#000000","#000000"]}}}},
{"data":{"name":"boldB"},"mark":{"type":"text","baseline":"middle","fontWeight":"bold"},"encoding":{"text":{"field":"t"},"size":{"field":"r","type":"nominal","scale":{"type":"ordinal","domain":["ion","seq","sup","iam","red","head","letter","B","G","Y","W","D","R"],"range":[12.5,20.5,13,20.5,20.5,36,49,85,75,75,75,160,60]}},"color":{"field":"r","type":"nominal","scale":{"domain":["ion","seq","sup","iam","red","head","letter"],"range":["#222222","#000000","#000000","#e8202a","#e8202a","#000000","#000000"]}}}}
]},
{"width":689,"height":346,
"encoding":{"x":{"field":"x","type":"quantitative","scale":{"domain":[220,2502],"nice":false,"zero":false},"axis":{"values":[400,600,800,1000,1200,1400,1600,1800,2000,2200,2400],"format":"d","title":"m/z","titleFontSize":19,"tickSize":4,"labelPadding":5,"titleX":335,"titleY":30,"labelOverlap":false}},"y":{"field":"y","type":"quantitative","scale":{"domain":[0,102.67],"nice":false},"axis":{"values":[0,100],"domain":false,"title":"Relative Intensity (%)","tickSize":7,"labelPadding":2,"titleX":-8,"titleY":163}}},
"layer":[
{"data":{"values":[{"x":220,"y":100}]},"mark":{"type":"rule","color":"black","strokeWidth":2},"encoding":{"y2":{"datum":0}}},
{"data":{"name":"peaksC"},"mark":{"type":"rule","color":"black","strokeWidth":1.4},"encoding":{"y2":{"datum":0}}},
{"data":{"name":"dashC"},"mark":{"type":"rule","color":"black","strokeWidth":1.5,"strokeDash":[8,8]},"encoding":{"x2":{"field":"x2"},"y2":{"field":"y2"}}},
{"data":{"values":[{"x":612,"x2":1428,"y":109.7,"y2":59}]},"mark":{"type":"rect","fill":"black"},"encoding":{"x2":{"field":"x2"},"y2":{"field":"y2"}}},
{"data":{"values":[{"x":601,"x2":1417,"y":110.7,"y2":60}]},"mark":{"type":"rect","fill":"white","stroke":"black","strokeWidth":1.5},"encoding":{"x2":{"field":"x2"},"y2":{"field":"y2"}}},
{"data":{"name":"linksC"},"mark":{"type":"rule","color":"#444","strokeWidth":1},"encoding":{"x2":{"field":"x2"},"y2":{"field":"y2"}}},
{"data":{"name":"glyphC"},"mark":{"type":"point","filled":true,"opacity":1,"strokeWidth":1},"encoding":{"shape":{"field":"t","type":"nominal","scale":{"domain":["B","G","Y","W","D","R"],"range":["square","circle","circle","circle","diamond","triangle-right"]}},"fill":{"field":"t","type":"nominal","scale":{"domain":["B","G","Y","W","D","R"],"range":["#0000f0","#10b020","#fff000","#ffffff","#e010c0","#f01010"]}},"stroke":{"field":"t","type":"nominal","scale":{"domain":["B","G","Y","W","D","R"],"range":["#5050ff","#222222","#222222","#222222","#e010c0","#f01010"]}},"size":{"field":"t","type":"nominal","scale":{"type":"ordinal","domain":["ion","seq","sup","iam","red","head","letter","B","G","Y","W","D","R"],"range":[12.5,20.5,13,20.5,20.5,36,49,85,75,75,75,160,60]}}}},
{"data":{"name":"textC"},"mark":{"type":"text","baseline":"middle"},"encoding":{"text":{"field":"t"},"size":{"field":"r","type":"nominal","scale":{"type":"ordinal","domain":["ion","seq","sup","iam","red","head","letter","B","G","Y","W","D","R"],"range":[12.5,20.5,13,20.5,20.5,36,49,85,75,75,75,160,60]}},"color":{"field":"r","type":"nominal","scale":{"domain":["ion","seq","sup","iam","red","head","letter"],"range":["#222222","#000000","#000000","#e8202a","#e8202a","#000000","#000000"]}}}},
{"data":{"name":"boldC"},"mark":{"type":"text","baseline":"middle","fontWeight":"bold"},"encoding":{"text":{"field":"t"},"size":{"field":"r","type":"nominal","scale":{"type":"ordinal","domain":["ion","seq","sup","iam","red","head","letter","B","G","Y","W","D","R"],"range":[12.5,20.5,13,20.5,20.5,36,49,85,75,75,75,160,60]}},"color":{"field":"r","type":"nominal","scale":{"domain":["ion","seq","sup","iam","red","head","letter"],"range":["#222222","#000000","#000000","#e8202a","#e8202a","#000000","#000000"]}}}}
]}
]}
